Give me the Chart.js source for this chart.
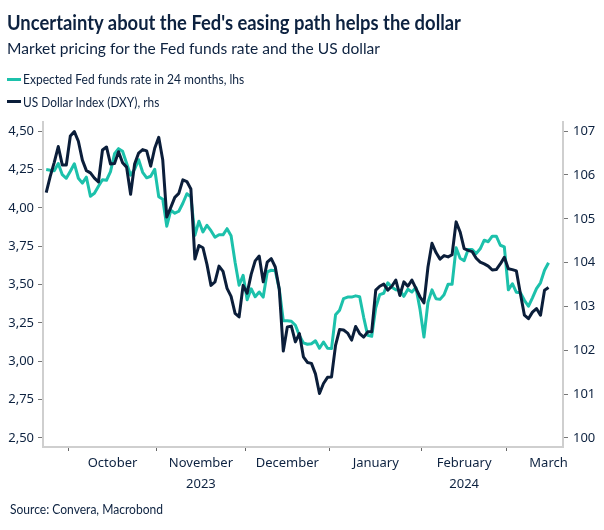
<!DOCTYPE html>
<html><head><meta charset="utf-8">
<script src="https://cdn.jsdelivr.net/npm/chart.js@4"></script>
<style>
html,body{margin:0;padding:0;background:#fff;}
#wrap{position:relative;width:604px;height:530px;overflow:hidden;font-family:"Lato","Noto Sans",sans-serif;color:#0d2240;}
canvas{position:absolute;left:0;top:0;}
.t{position:absolute;white-space:nowrap;transform-origin:0 50%;}
#title{left:6.7px;top:9.5px;font-size:20px;line-height:24px;font-weight:700;}
#sub{left:7px;top:37.8px;font-size:16px;line-height:20px;}
.leg{font-size:13px;line-height:16px;left:22.7px;}
.sw{position:absolute;left:7.3px;width:13.4px;height:3.3px;}
#src{left:10px;top:502.2px;font-size:12.5px;line-height:16px;}
</style></head>
<body><div id="wrap">
<canvas id="c" width="604" height="530"></canvas>
<div class="t" id="title">Uncertainty about the Fed's easing path helps the dollar</div>
<div class="t" id="sub">Market pricing for the Fed funds rate and the US dollar</div>
<span class="sw" id="sw1" style="top:77.7px"></span>
<div class="t leg" id="lt1" style="top:71.3px"></div>
<span class="sw" id="sw2" style="top:100px"></span>
<div class="t leg" id="lt2" style="top:93.7px"></div>
<div class="t" id="src">Source: Convera, Macrobond</div>
</div>
<script>
// ---- data (business days, first point 2023-09-22) ----
const firstDate = '2023-09-22';
const seriesNames = ['Expected Fed funds rate in 24 months, lhs', 'US Dollar Index (DXY), rhs'];
const fedRate = [
4.25,4.245,4.242,4.289,4.216,4.193,
4.239,4.288,4.193,4.161,4.200,4.076,4.095,4.141,4.183,4.180,
4.236,4.353,4.386,4.369,4.291,4.213,4.252,4.314,4.232,4.196,
4.206,4.252,4.072,4.056,3.880,3.984,3.965,3.978,4.030,4.092,
4.072,3.821,3.913,3.843,3.886,3.851,3.808,3.824,3.824,3.864,
3.818,3.645,3.495,3.560,3.400,3.472,3.420,3.451,3.418,3.582,
3.593,3.590,3.469,3.263,3.263,3.260,3.234,3.168,3.119,3.110,
3.114,3.133,3.084,3.125,3.084,3.082,3.302,3.332,3.408,3.418,
3.418,3.426,3.420,3.286,3.168,3.162,3.348,3.434,3.443,3.511,
3.482,3.465,3.462,3.423,3.469,3.451,3.480,3.341,3.157,3.384,
3.465,3.407,3.403,3.433,3.501,3.501,3.740,3.671,3.655,3.728,
3.728,3.702,3.733,3.789,3.779,3.815,3.815,3.756,3.746,3.465,
3.505,3.449,3.446,3.397,3.358,3.413,3.473,3.511,3.593,3.642];
const dxy = [
105.60,105.97,106.29,106.65,106.23,106.23,
106.89,106.99,106.77,106.34,106.10,106.05,105.93,105.84,106.57,106.64,
106.25,106.26,106.53,106.28,106.18,105.56,106.25,106.50,106.58,106.55,
106.20,106.61,106.86,106.34,105.04,105.26,105.49,105.58,105.89,105.85,
105.68,104.08,104.39,104.34,103.96,103.48,103.56,103.92,103.80,103.41,
103.23,102.84,102.76,103.48,103.30,103.73,104.04,104.15,103.56,104.01,
104.09,103.90,103.39,101.98,102.53,102.55,102.19,102.38,101.85,101.72,
101.70,101.46,101.01,101.24,101.38,101.39,102.11,102.47,102.46,102.39,
102.23,102.54,102.38,102.30,102.42,102.42,103.37,103.46,103.51,103.37,
103.46,103.60,103.25,103.56,103.46,103.60,103.41,103.22,103.08,103.90,
104.44,104.23,104.08,104.16,104.13,104.18,104.93,104.70,104.32,104.28,
104.25,104.10,104.01,103.97,103.92,103.83,103.84,103.97,104.12,103.86,
103.84,103.81,103.29,102.80,102.72,102.87,102.95,102.80,103.37,103.43];
const monthLabels = ['October','November','December','January','February','March'];
const yearLabels  = ['', '2023', '', '', '2024', ''];
const leftTicks  = [2.5, 2.75, 3.0, 3.25, 3.5, 3.75, 4.0, 4.25, 4.5];
const rightTicks = [100, 101, 102, 103, 104, 105, 106, 107];

const TEAL = '#1cc1ab', NAVY = '#0b1e3a', TXT = '#0d2240';

// legend
document.getElementById('lt1').textContent = seriesNames[0];
document.getElementById('lt2').textContent = seriesNames[1];
document.getElementById('sw1').style.background = TEAL;
document.getElementById('sw2').style.background = NAVY;

// fit header/legend/source text widths to the reference layout
[['title', 454], ['sub', 373], ['lt1', 221.3], ['lt2', 136.3], ['src', 153]].forEach(([id, w]) => {
  const el = document.getElementById(id);
  const cur = el.getBoundingClientRect().width;
  if (cur > 0) el.style.transform = 'scaleX(' + (w / cur) + ')';
});

// business-day calendar for the x axis
const days = [];
(function(){
  const d = new Date(firstDate + 'T00:00:00Z');
  while (days.length < 140) {
    const w = d.getUTCDay();
    if (w !== 0 && w !== 6) days.push(new Date(d));
    d.setUTCDate(d.getUTCDate() + 1);
  }
})();
const groups = [];
days.forEach((d, k) => {
  const key = d.getUTCFullYear() * 12 + d.getUTCMonth();
  if (!groups.length || groups[groups.length - 1].key !== key) groups.push({key, first: k, last: k});
  else groups[groups.length - 1].last = k;
});
const tickDefs = [];
for (let g = 1; g <= monthLabels.length; g++) {
  const grp = groups[g];
  tickDefs.push({value: grp.first - 0.5, label: '', mark: true});
  const lab = yearLabels[g - 1] ? [monthLabels[g - 1], yearLabels[g - 1]] : monthLabels[g - 1];
  tickDefs.push({value: (grp.first + grp.last) / 2, label: lab, mark: false});
}
const markSet = new Set(tickDefs.filter(t => t.mark).map(t => t.value));

const font = {family: 'Noto Sans', size: 13};

new Chart(document.getElementById('c'), {
  type: 'line',
  data: {
    datasets: [
      {label: seriesNames[1], data: dxy.map((v, k) => ({x: k, y: v})), yAxisID: 'y2',
       borderColor: NAVY, borderWidth: 3, pointRadius: 0, tension: 0, order: 0, borderJoinStyle: 'round'},
      {label: seriesNames[0], data: fedRate.map((v, k) => ({x: k, y: v})), yAxisID: 'y',
       borderColor: TEAL, borderWidth: 3, pointRadius: 0, tension: 0, order: 1, borderJoinStyle: 'round'}
    ]
  },
  options: {
    responsive: false, animation: false, devicePixelRatio: 1,
    layout: {padding: {top: 122, left: 0, right: 0, bottom: 0}},
    plugins: {legend: {display: false}, tooltip: {enabled: false}, title: {display: false}},
    scales: {
      x: {
        type: 'linear', position: 'bottom', min: -0.8, max: 128.6,
        afterBuildTicks: s => { s.ticks = tickDefs.map(t => ({value: t.value})); },
        afterFit: s => { s.height = 83; },
        ticks: {autoSkip: false, maxRotation: 0, minRotation: 0, padding: 2, color: TXT,
          font: {family: 'Noto Sans', size: 13, lineHeight: 1.6},
          callback: (v, i) => tickDefs[i] ? tickDefs[i].label : ''},
        grid: {display: true, drawOnChartArea: false, drawTicks: true, tickLength: 4, tickWidth: 1,
          tickColor: ctx => (ctx.tick && markSet.has(ctx.tick.value)) ? '#666' : 'rgba(0,0,0,0)'},
        border: {display: true, color: '#cfcfcf', width: 2}
      },
      y: {
        position: 'left', min: 2.44, max: 4.56,
        afterBuildTicks: s => { s.ticks = leftTicks.map(v => ({value: v})); },
        afterFit: s => { s.width = 43; },
        ticks: {padding: 4, color: TXT, font, callback: v => Number(v).toFixed(2).replace('.', ',')},
        grid: {display: true, drawOnChartArea: false, tickLength: 5, tickWidth: 1, tickColor: '#777'},
        border: {display: true, color: '#cfcfcf', width: 2}
      },
      y2: {
        position: 'right', min: 99.79, max: 107.21,
        afterBuildTicks: s => { s.ticks = rightTicks.map(v => ({value: v})); },
        afterFit: s => { s.width = 41; },
        ticks: {padding: 5, color: TXT, font, callback: v => String(v)},
        grid: {display: true, drawOnChartArea: false, tickLength: 5, tickWidth: 1, tickColor: '#777'},
        border: {display: true, color: '#cfcfcf', width: 2}
      }
    }
  }
});
</script>
</body></html>
